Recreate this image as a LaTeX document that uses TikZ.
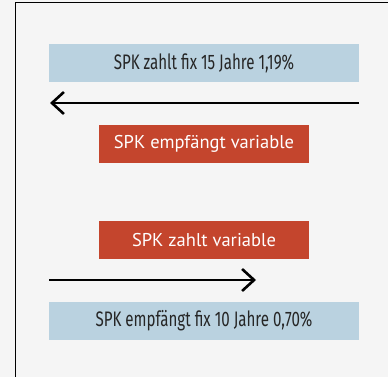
\documentclass[tikz,border=0pt]{standalone}
\usepackage{fontspec}
\usetikzlibrary{arrows.meta}
\newfontfamily\fixfont[FakeStretch=0.72]{Fira Sans}
\newfontfamily\varfont{PT Sans}
\definecolor{fixblue}{HTML}{BAD2E0}
\definecolor{varred}{HTML}{C4452D}
\definecolor{bggray}{HTML}{F5F5F5}
\begin{document}
\begin{tikzpicture}[x=1pt, y=-1pt,
    fixbox/.style={fill=fixblue, minimum width=310pt, minimum height=38pt, inner sep=0pt,
      text=black!85, font=\fixfont\fontsize{21}{21}\selectfont},
    varbox/.style={fill=varred, minimum width=210pt, minimum height=38pt, inner sep=0pt,
      text=white, font=\varfont\fontsize{18.5}{18.5}\selectfont},
    flow/.style={line width=2.6pt, -{Straight Barb[length=12pt, width=22pt, line width=2.6pt]}}]
  \useasboundingbox (0, 0) rectangle (388, 377);
  \fill [bggray] (0, 0) rectangle (388, 377);
  \draw [line width=1pt] (15, 380) -- (15, 3) -- (392, 3);

  \node [fixbox] (payfix) at (204, 63) {SPK zahlt fix 15 Jahre 1,19\%};
  \coordinate (topright) at (359, 103);
  \coordinate (topleft) at (50, 103);
  \draw [flow] (topright) -- (topleft);
  \node [varbox] (getvar) at (204, 144) {SPK empfängt variable};

  \node [varbox] (payvar) at (204, 240) {SPK zahlt variable};
  \coordinate (botleft) at (49, 280);
  \coordinate (botright) at (256, 280);
  \draw [flow] (botleft) -- (botright);
  \node [fixbox] (getfix) at (204, 321) {SPK empfängt fix 10 Jahre 0,70\%};
\end{tikzpicture}
\end{document}
